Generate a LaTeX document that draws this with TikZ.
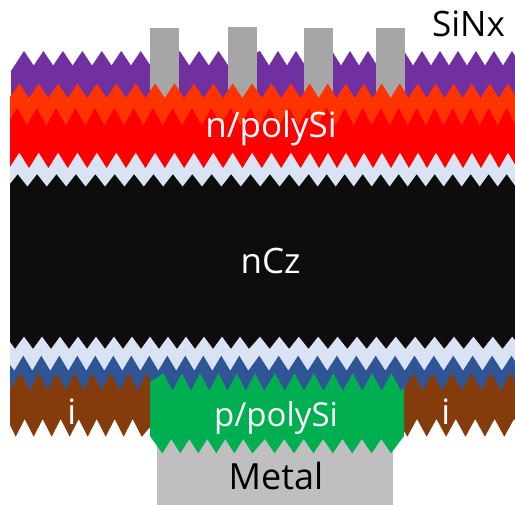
\documentclass[tikz,border=0pt]{standalone}
\usepackage{fontspec}
\setmainfont{Open Sans}
\definecolor{cPurple}{HTML}{7030A0}
\definecolor{cOrange}{HTML}{FF3300}
\definecolor{cRed}{HTML}{FF0000}
\definecolor{cPale}{HTML}{DAE3F3}
\definecolor{cBlack}{HTML}{0D0D0D}
\definecolor{cBlue}{HTML}{2F5597}
\definecolor{cBrown}{HTML}{843C0C}
\definecolor{cGreen}{HTML}{00B050}
\definecolor{cMetal}{HTML}{BFBFBF}
\definecolor{cContact}{HTML}{A6A6A6}
% #1 first tip x, #2 period, #3 last index, #4 tip y, #5 opposite tip y
\newcommand{\zig}[5]{\foreach \k in {0,...,#3} { -- ({#1+\k*#2},#4) -- ({#1+\k*#2+#2/2},#5) }}
% same walked from right to left
\newcommand{\zag}[5]{\foreach \k in {0,...,#3} { -- ({#1-\k*#2},#4) -- ({#1-\k*#2-#2/2},#5) }}
\tikzset{
  lbl/.style={anchor=base,inner sep=0pt,font=\fontsize{35}{38}\selectfont},
  lblw/.style={lbl,text=white},
  lblk/.style={lbl,text=black}
}
\begin{document}
\begin{tikzpicture}[x=1pt,y=-1pt]
\useasboundingbox (0,0) rectangle (515,505);
\clip (0,0) rectangle (515,505);
% SiNx
\fill[cPurple] (11,110) -- (11,71) \zig{24}{19.45}{10}{51}{65.5} \zig{260}{18}{15}{51}{65.5} -- (530,110) -- cycle;
% front contacts
\fill[cContact] (150,28) rectangle (179,102);
\fill[cContact] (228,27) rectangle (257,102);
\fill[cContact] (304,28) rectangle (333,102);
\fill[cContact] (376,28) rectangle (405,102);
% n/polySi, two tones
\fill[cOrange] (10,130) -- (10,97) \zig{19.3}{19.4}{14}{83.5}{98} \zig{309.7}{18}{12}{83.5}{98} -- (530,130) -- cycle;
\fill[cRed] (10,175) -- (10,120) \zig{17.3}{19.4}{14}{108}{125.5} \zig{308.7}{18}{12}{108}{125.5} -- (530,175) -- cycle;
% upper passivation
\fill[cPale] (10,195) -- (10,167) \zig{19.3}{19.4}{14}{152.7}{168.3} \zig{310}{18}{12}{152.7}{168.3} -- (530,195) -- cycle;
% wafer
\fill[cBlack] (10,352) -- (10,184) \zig{17.7}{19.4}{14}{174.3}{186.7} \zig{308.7}{18}{12}{174.3}{186.7} -- (530,352) -- cycle;
% lower passivation
\fill[cPale] (10,380) -- (10,342) -- (15,349) \zig{24}{18}{12}{336.7}{349} \zig{260}{19.4}{13}{336.7}{349} -- (530,380) -- cycle;
% tunnel oxide
\fill[cBlue] (10,395) -- (10,365) -- (14.3,370.7) \zig{23.3}{18}{12}{355.7}{370.7} \zig{259.3}{19.4}{13}{355.7}{370.7} -- (530,395) -- cycle;
% intrinsic strips
\fill[cBrown] (10,425) -- (10,390) \zig{20.7}{18}{7}{372.7}{390.7} -- (152,382) -- (152,425)
  \zag{141.7}{18}{6}{436.7}{419} -- (15.7,436.7) -- cycle;
\fill[cBrown] (404,432) -- (404,390) \zig{413}{19.5}{6}{372.7}{390.7} -- (530,432)
  \zag{523.7}{19.4}{6}{436.7}{419} -- cycle;
% metal
\fill[cMetal] (157,430) rectangle (393,505);
% p/polySi
\fill[cGreen] (150,436) -- (150,382) \zig{163.5}{18.3}{5}{373.3}{390.7} \zig{275}{19.4}{6}{373.3}{390.7} -- (404,388) -- (404,436)
  \zag{391}{19.4}{6}{453.3}{439} \zag{252.3}{18}{4}{453.3}{439} -- (162.3,453.3) -- cycle;
% labels
\node[lblk] (sinx) at (468.5,36.7) {SiNx};
\node[lblw] (npoly) at (271,137.5) {n/polySi};
\node[lblw] (ncz) at (270.5,274) {nCz};
\node[lblw,font=\fontsize{33}{36}\selectfont] (ppoly) at (276,426.7) {p/polySi};
\node[lblw] (il) at (71.7,425) {i};
\node[lblw] (ir) at (445.7,425) {i};
\node[lblk,font=\fontsize{36}{39}\selectfont] (metal) at (276,490) {Metal};
\end{tikzpicture}
\end{document}
